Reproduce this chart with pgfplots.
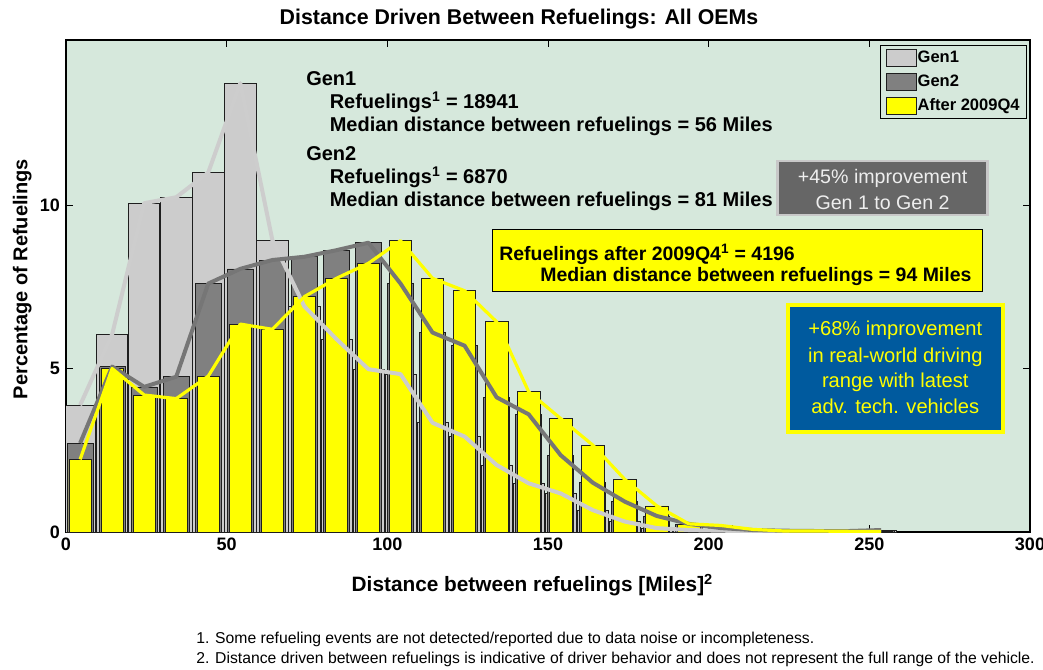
\documentclass[border=0pt]{standalone}
\usepackage{pgfplots}
\usepackage{pgfplotstable}
\pgfplotsset{compat=1.18}
\usepackage{fontspec}
\setmainfont{Liberation Sans}
\definecolor{bgc}{RGB}{214,232,220}
\definecolor{gonef}{RGB}{204,204,204}
\definecolor{gonel}{RGB}{205,205,205}
\definecolor{gtwof}{RGB}{128,128,128}
\definecolor{gtwol}{RGB}{118,118,118}
\definecolor{ylw}{RGB}{255,255,0}
\definecolor{barline}{RGB}{30,30,30}
\definecolor{boxgray}{RGB}{102,102,102}
\definecolor{boxborder}{RGB}{200,200,200}
\definecolor{boxtext}{RGB}{238,238,238}
\definecolor{blueb}{RGB}{0,90,158}

\pgfplotstableread{
x g1 g2 yl
4.40 3.88 2.72 2.22
14.37 6.05 5.06 5.00
24.34 10.06 4.44 4.19
34.31 10.24 4.75 4.08
44.28 11.00 7.60 4.77
54.25 13.73 8.05 6.36
64.22 8.93 8.32 6.20
74.19 6.90 8.42 7.20
84.16 5.90 8.62 7.76
94.13 4.98 8.85 8.22
104.10 4.83 7.60 8.91
114.07 3.34 6.10 7.76
124.04 2.92 5.70 7.38
134.01 2.05 4.12 6.43
143.98 1.49 3.60 4.29
153.95 1.18 2.35 3.47
163.92 0.67 1.51 2.66
173.89 0.32 0.93 1.61
183.86 0.12 0.49 0.80
193.83 0.06 0.25 0.25
203.80 0.04 0.12 0.20
213.77 0.03 0.06 0.08
223.74 0.03 0.04 0.03
233.71 0.03 0.03 0.03
243.68 0.03 0.03 0.02
253.65 0.04 0.06 0.02
}\datatab

\begin{document}
\begin{tikzpicture}
\useasboundingbox (0,0) rectangle (782.25pt,-501.75pt);
\begin{axis}[
  at={(49.5pt,-399pt)}, anchor=south west,
  scale only axis, width=723pt, height=369pt,
  xmin=0, xmax=300, ymin=0, ymax=15.05,
  axis background/.style={fill=bgc},
  xtick={0,50,...,300}, ytick={0,5,10},
  tick align=inside, major tick length=5pt,
  tick style={black, line width=0.6pt},
  axis line style={line width=1pt},
  /pgf/number format/assume math mode=true,
  ticklabel style={font=\bfseries\fontsize{13.5}{14}\selectfont},
  xticklabel style={yshift=-1pt},
  yticklabel style={xshift=-1pt},
  legend style={at={(0.9966,0.9898)}, anchor=north east, fill=bgc, draw=black,
     line width=0.6pt, font=\bfseries\fontsize{12.4}{13}\selectfont,
     inner xsep=4pt, inner ysep=2.5pt, row sep=4pt,
     nodes={inner sep=1pt, text height=9.5pt, text depth=2.5pt}},
  legend cell align=left,
]
\addplot[ybar, bar width=9.7, bar shift=0pt, fill=gonef, draw=barline, line width=0.5pt,
  legend image code/.code={\draw[fill=gonef,draw=barline,line width=0.6pt] (0pt,-6.4pt) rectangle (22.5pt,6.4pt);}]
  table[x=x,y=g1] {\datatab};
\addlegendentry{Gen1}
\addplot[ybar, bar width=8.1, bar shift=0pt, fill=gtwof, draw=barline, line width=0.5pt,
  legend image code/.code={\draw[fill=gtwof,draw=barline,line width=0.6pt] (0pt,-6.4pt) rectangle (22.5pt,6.4pt);}]
  table[x=x,y=g2] {\datatab};
\addlegendentry{Gen2}
\addplot[ybar, bar width=7.0, bar shift=0pt, fill=ylw, draw=barline, line width=0.5pt,
  legend image code/.code={\draw[fill=ylw,draw=barline,line width=0.6pt] (0pt,-6.4pt) rectangle (22.5pt,6.4pt);}]
  table[x=x,y=yl] {\datatab};
\addlegendentry{After 2009Q4}
\addplot[forget plot, gonel, line width=3pt, line join=round, mark=none] table[x=x,y=g1] {\datatab};
\addplot[forget plot, gtwol, line width=3pt, line join=round, mark=none] table[x=x,y=g2] {\datatab};
\addplot[forget plot, ylw, line width=2.4pt, line join=round, mark=none] table[x=x,y=yl] {\datatab};
\end{axis}

\begin{scope}[x=0.75pt, y=-0.75pt]
% title
\node[anchor=base, font=\bfseries\fontsize{16}{18}\selectfont] at (519,24) {Distance Driven Between Refuelings: All OEMs};
% axis labels
\node[anchor=base west, font=\bfseries\fontsize{15.6}{17}\selectfont] at (347,591.7) {Distance between refuelings [Miles]\textsuperscript{2}};
\node[rotate=90, anchor=base, font=\bfseries\fontsize{15}{17}\selectfont] at (27.3,279) {Percentage of Refuelings};
% annotations
\begin{scope}[font=\bfseries\fontsize{15}{17}\selectfont]
\node[anchor=base west, inner sep=0pt] at (306,85) {Gen1};
\node[anchor=base west, inner sep=0pt] at (329.5,108.5) {Refuelings\textsuperscript{1} = 18941};
\node[anchor=base west, inner sep=0pt] at (329.5,131) {Median distance between refuelings = 56 Miles};
\node[anchor=base west, inner sep=0pt] at (306,160) {Gen2};
\node[anchor=base west, inner sep=0pt] at (329.5,183.5) {Refuelings\textsuperscript{1} = 6870};
\node[anchor=base west, inner sep=0pt] at (329.5,206.5) {Median distance between refuelings = 81 Miles};
\end{scope}
% gray box
\draw[fill=boxgray, draw=boxborder, line width=2.2pt] (777.6,161) rectangle (987.6,215);
\node[anchor=base, text=boxtext, font=\fontsize{14.7}{17}\selectfont, inner sep=0pt] at (882.6,183.3) {+45\% improvement};
\node[anchor=base, text=boxtext, font=\fontsize{14.7}{17}\selectfont, inner sep=0pt] at (882.6,209.3) {Gen 1 to Gen 2};
% yellow box
\draw[fill=ylw, draw=black, line width=0.75pt] (492.3,229) rectangle (982.3,291);
\node[anchor=base west, font=\bfseries\fontsize{14.6}{17}\selectfont, inner sep=0pt] at (499,260) {Refuelings after 2009Q4\textsuperscript{1} = 4196};
\node[anchor=base east, font=\bfseries\fontsize{14.6}{17}\selectfont, inner sep=0pt] at (971.7,281.7) {Median distance between refuelings = 94 Miles};
% blue box
\draw[fill=blueb, draw=ylw, line width=3pt] (787.5,304.5) rectangle (1003.2,431.5);
\begin{scope}[font=\fontsize{15.1}{17}\selectfont, text=ylw]
\node[anchor=base, inner sep=0pt] at (895.3,335.5) {+68\% improvement};
\node[anchor=base, inner sep=0pt] at (895.3,362) {in real-world driving};
\node[anchor=base, inner sep=0pt] at (895.3,387.3) {range with latest};
\node[anchor=base, inner sep=0pt] at (895.3,413.3) {adv. tech. vehicles};
\end{scope}
% footnotes
\node[anchor=base west, font=\fontsize{11.8}{13}\selectfont, inner sep=0pt] at (196,643) {1. Some refueling events are not detected/reported due to data noise or incompleteness.};
\node[anchor=base west, font=\fontsize{11.8}{13}\selectfont, inner sep=0pt] at (196,663.5) {2. Distance driven between refuelings is indicative of driver behavior and does not represent the full range of the vehicle.};
\end{scope}
\end{tikzpicture}
\end{document}
